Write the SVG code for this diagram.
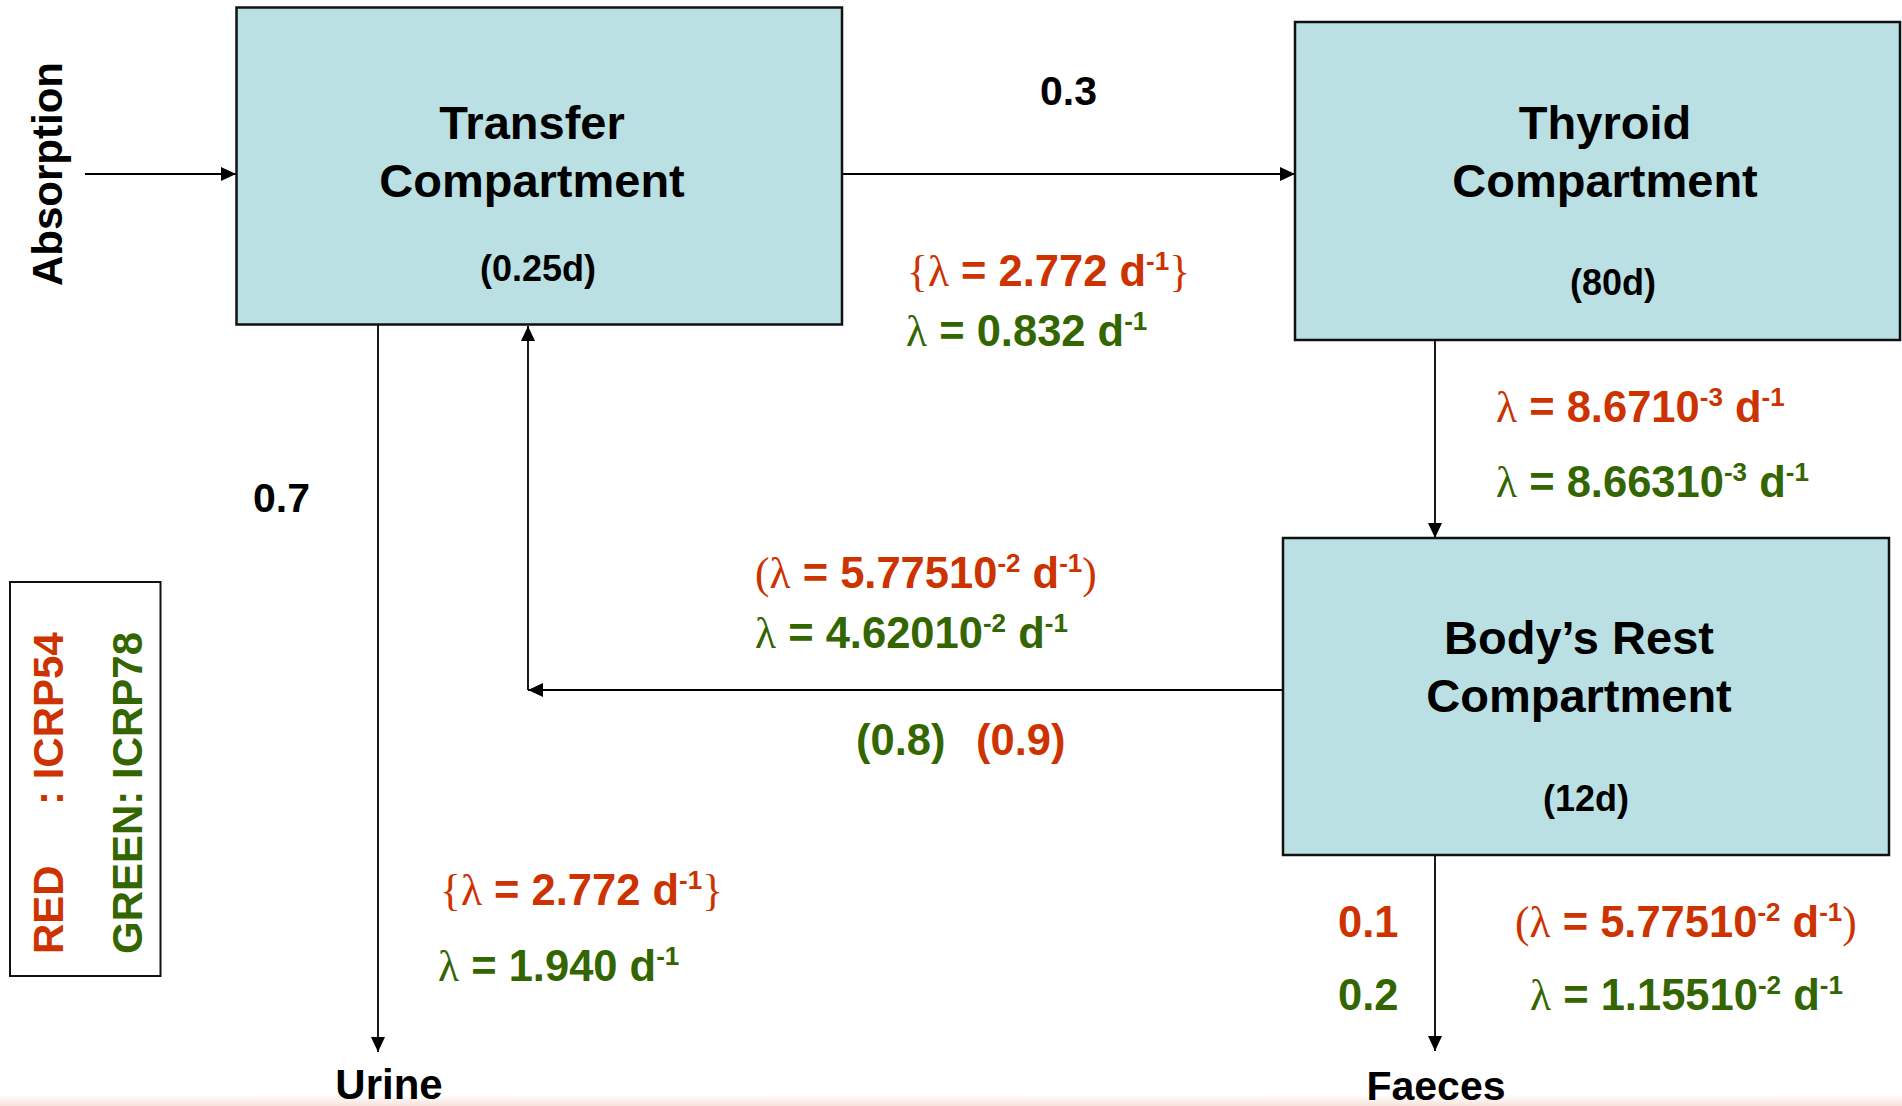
<svg xmlns="http://www.w3.org/2000/svg" width="1902" height="1106" viewBox="0 0 1902 1106">
<style>
.box{fill:#BBE0E3;stroke:#111;stroke-width:2.5}
.t{font-family:"Liberation Sans",Arial,Helvetica,sans-serif;font-weight:bold}
.title{font-size:47px;fill:#000;text-anchor:middle}
.half{font-size:36px;fill:#000;text-anchor:middle}
.num{font-size:41px;fill:#000}
.lab{font-size:43.5px}
.red{fill:#CC3300}
.green{fill:#336600}
.sym{font-family:"Liberation Serif","Times New Roman",serif;font-weight:normal}
.sup{font-size:26px}
.conn{stroke:#000;stroke-width:1.8;fill:none}
</style>
<defs>
<marker id="ah" markerUnits="userSpaceOnUse" markerWidth="16" markerHeight="14" refX="15" refY="7" orient="auto">
<path d="M0,0 L15,7 L0,14 z" fill="#000"/>
</marker>
<linearGradient id="bot" x1="0" y1="0" x2="0" y2="1">
<stop offset="0" stop-color="#ffffff"/>
<stop offset="1" stop-color="#F6E2D8"/>
</linearGradient>
</defs>
<rect x="0" y="0" width="1902" height="1106" fill="#fff"/>
<rect x="0" y="1095" width="1902" height="11" fill="url(#bot)"/>

<g id="connectors">
<path class="conn" d="M85,174 L236,174" marker-end="url(#ah)"/>
<path class="conn" d="M842,174 L1295,174" marker-end="url(#ah)"/>
<path class="conn" d="M1435,340 L1435,538" marker-end="url(#ah)"/>
<path class="conn" d="M1283,690 L528,690" marker-end="url(#ah)"/>
<path class="conn" d="M528,690 L528,326" marker-end="url(#ah)"/>
<path class="conn" d="M378,325 L378,1052" marker-end="url(#ah)"/>
<path class="conn" d="M1435,855 L1435,1051" marker-end="url(#ah)"/>
</g>

<g id="transfer">
<rect class="box" x="236.5" y="7.5" width="605.5" height="317"/>
<text class="t title" x="532" y="139">Transfer</text>
<text class="t title" x="532" y="197">Compartment</text>
<text class="t half" x="538" y="281">(0.25d)</text>
</g>

<g id="thyroid">
<rect class="box" x="1295" y="22" width="605" height="318"/>
<text class="t title" x="1605" y="139">Thyroid</text>
<text class="t title" x="1605" y="197">Compartment</text>
<text class="t half" x="1613" y="295">(80d)</text>
</g>

<g id="body">
<rect class="box" x="1283" y="538" width="606" height="317"/>
<text class="t title" x="1579" y="654">Body’s Rest</text>
<text class="t title" x="1579" y="712">Compartment</text>
<text class="t half" x="1586" y="811">(12d)</text>
</g>

<g id="absorption">
<text class="t" font-size="42" fill="#000" text-anchor="middle" transform="translate(61.5,174) rotate(-90)">Absorption</text>
</g>

<g id="urine">
<text class="t" font-size="42" fill="#000" x="389" y="1099" text-anchor="middle">Urine</text>
</g>

<g id="faeces">
<text class="t num" x="1436" y="1100" text-anchor="middle">Faeces</text>
</g>

<g id="legend">
<rect x="10" y="582" width="150.5" height="394" fill="none" stroke="#111" stroke-width="2"/>
<text class="t red" font-size="42" transform="translate(63,954) rotate(-90)"><tspan x="0">RED</tspan><tspan x="149">: ICRP54</tspan></text>
<text class="t green" font-size="42" transform="translate(141.5,954) rotate(-90)">GREEN: ICRP78</text>
</g>

<g id="labels">
<text class="t num" x="1040" y="105">0.3</text>
<text class="t num" x="253" y="512">0.7</text>

<text class="t lab red" x="907" y="286"><tspan class="sym">{λ</tspan> = 2.772 d<tspan class="sup" dy="-16">-1</tspan><tspan class="sym" dy="16">}</tspan></text>
<text class="t lab green" x="906" y="346"><tspan class="sym">λ</tspan> = 0.832 d<tspan class="sup" dy="-16">-1</tspan></text>

<text class="t lab red" x="1496" y="422"><tspan class="sym">λ</tspan> = 8.6710<tspan class="sup" dy="-16">-3</tspan><tspan dy="16"> d</tspan><tspan class="sup" dy="-16">-1</tspan></text>
<text class="t lab green" x="1496" y="497"><tspan class="sym">λ</tspan> = 8.66310<tspan class="sup" dy="-16">-3</tspan><tspan dy="16"> d</tspan><tspan class="sup" dy="-16">-1</tspan></text>

<text class="t lab red" x="755" y="588"><tspan class="sym">(λ</tspan> = 5.77510<tspan class="sup" dy="-16">-2</tspan><tspan dy="16"> d</tspan><tspan class="sup" dy="-16">-1</tspan><tspan class="sym" dy="16">)</tspan></text>
<text class="t lab green" x="755" y="648"><tspan class="sym">λ</tspan> = 4.62010<tspan class="sup" dy="-16">-2</tspan><tspan dy="16"> d</tspan><tspan class="sup" dy="-16">-1</tspan></text>

<text class="t lab green" x="856" y="755">(0.8)</text>
<text class="t lab red" x="976" y="755">(0.9)</text>

<text class="t lab red" x="440" y="905"><tspan class="sym">{λ</tspan> = 2.772 d<tspan class="sup" dy="-16">-1</tspan><tspan class="sym" dy="16">}</tspan></text>
<text class="t lab green" x="438" y="981"><tspan class="sym">λ</tspan> = 1.940 d<tspan class="sup" dy="-16">-1</tspan></text>

<text class="t lab red" x="1338" y="937">0.1</text>
<text class="t lab green" x="1338" y="1010">0.2</text>

<text class="t lab red" x="1515" y="937"><tspan class="sym">(λ</tspan> = 5.77510<tspan class="sup" dy="-16">-2</tspan><tspan dy="16"> d</tspan><tspan class="sup" dy="-16">-1</tspan><tspan class="sym" dy="16">)</tspan></text>
<text class="t lab green" x="1530" y="1010"><tspan class="sym">λ</tspan> = 1.15510<tspan class="sup" dy="-16">-2</tspan><tspan dy="16"> d</tspan><tspan class="sup" dy="-16">-1</tspan></text>
</g>
</svg>
